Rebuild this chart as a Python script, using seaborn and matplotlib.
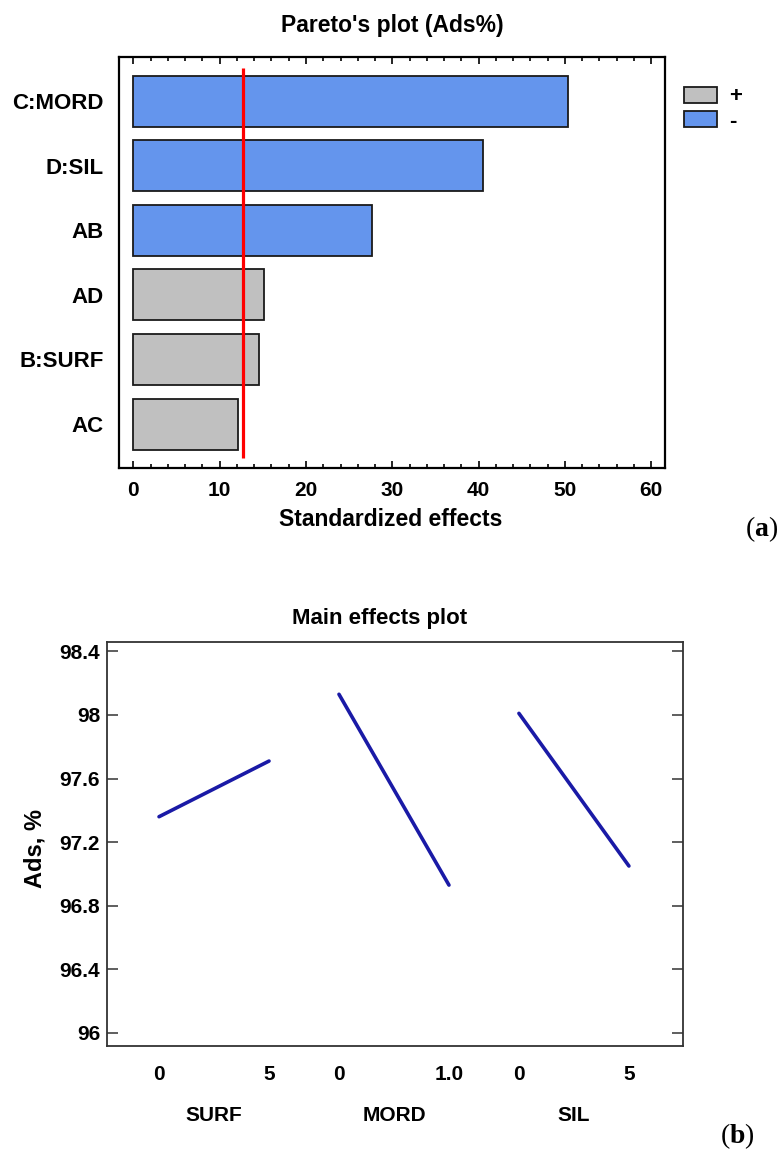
import numpy as np
import pandas as pd
import matplotlib
matplotlib.use("Agg")
import matplotlib.pyplot as plt
import matplotlib.transforms as mtransforms
from matplotlib.patches import Patch
from matplotlib.ticker import MultipleLocator
import seaborn as sns

# ---- Pareto chart of standardized effects ----
effects = ["C:MORD", "D:SIL", "AB", "AD", "B:SURF", "AC"]
effect_values = [50.4, 40.5, 27.7, 15.1, 14.6, 12.1]
effect_signs = ["-", "-", "-", "+", "+", "+"]
critical_value = 12.75
pareto_ticks = [0, 10, 20, 30, 40, 50, 60]

# ---- Main effects of each factor (low level -> high level) ----
factors = ["SURF", "MORD", "SIL"]
low_levels = ["0", "0", "0"]
high_levels = ["5", "1.0", "5"]
low_response = [97.36, 98.13, 98.01]
high_response = [97.71, 96.93, 97.05]
ads_ticks = [96.0, 96.4, 96.8, 97.2, 97.6, 98.0, 98.4]
ads_tick_labels = ["96", "96.4", "96.8", "97.2", "97.6", "98", "98.4"]

sns.set_style("white")
plt.rcParams["font.family"] = ["Liberation Sans", "DejaVu Sans"]
plt.rcParams["font.weight"] = "bold"
plt.rcParams["text.color"] = "black"
plt.rcParams["xtick.color"] = "black"
plt.rcParams["ytick.color"] = "black"
plt.rcParams["axes.labelcolor"] = "black"
plt.rcParams["mathtext.fontset"] = "custom"
plt.rcParams["mathtext.rm"] = "Liberation Serif"
plt.rcParams["mathtext.bf"] = "Liberation Serif:bold"

W, H = 780, 1150
fig = plt.figure(figsize=(W / 100, H / 100), dpi=100)
fig.patch.set_facecolor("white")


def box(left, top, right, bottom):
    """Axes rectangle from pixel edges (origin at the top-left)."""
    return [left / W, 1 - bottom / H, (right - left) / W, (bottom - top) / H]


# ================= (a) Pareto plot =================
ax1 = fig.add_axes(box(119, 56.7, 665, 468))
pareto = pd.DataFrame({"effect": effects, "value": effect_values, "sign": effect_signs})
sign_colors = {"+": "#c0c0c0", "-": "#6495ed"}
sns.barplot(data=pareto, x="value", y="effect", hue="sign", palette=sign_colors,
            dodge=False, width=0.79, saturation=1, edgecolor="#1a1a1a",
            linewidth=1.3, orient="h", legend=False, ax=ax1)
ax1.vlines(critical_value, -0.506, 5.52, color="#ff0000", lw=2.3, zorder=5)

ax1.set_xlim(-1.67, 61.6)
ax1.set_ylim(5.68, -0.686)
ax1.set_xticks(pareto_ticks)
ax1.xaxis.set_minor_locator(MultipleLocator(2))
ax1.tick_params(axis="x", which="both", direction="in", top=True, bottom=True,
                color="black", width=1.2, labelsize=15, pad=9)
ax1.tick_params(axis="x", which="major", length=5)
ax1.tick_params(axis="x", which="minor", length=3)
ax1.tick_params(axis="y", length=0, pad=11, labelsize=16)
ax1.set_xlabel("")
ax1.set_ylabel("")
for sp in ax1.spines.values():
    sp.set_visible(True)
    sp.set_color("black")
    sp.set_linewidth(1.6)

fig.text(392.5 / W, 1 - 31.7 / H, "Pareto's plot (Ads%)", ha="center",
         va="baseline", fontsize=16.5, fontweight="bold")
fig.text(390.5 / W, 1 - 526 / H, "Standardized effects", ha="center",
         va="baseline", fontsize=16.5, fontweight="bold")

legend_handles = [Patch(facecolor=sign_colors["+"], edgecolor="#1a1a1a", lw=1.3, label="+"),
                  Patch(facecolor=sign_colors["-"], edgecolor="#1a1a1a", lw=1.3, label="-")]
fig.legend(handles=legend_handles, loc="upper left", bbox_to_anchor=(684 / W, 1 - 86.5 / H),
           frameon=False, fontsize=16, handlelength=1.5, handleheight=0.7,
           handletextpad=0.55, labelspacing=0.16, borderpad=0, borderaxespad=0)

fig.text(762 / W, 1 - 529 / H, r"($\mathbf{a}$)", ha="center", va="center",
         fontsize=20, family="Liberation Serif", fontweight="normal")

# ================= (b) Main effects plot =================
ax2 = fig.add_axes(box(107, 641.8, 682.6, 1046))
seg_step = 1.636
rows = []
for i, f in enumerate(factors):
    rows.append({"factor": f, "x": i * seg_step, "ads": low_response[i]})
    rows.append({"factor": f, "x": i * seg_step + 1, "ads": high_response[i]})
effects_df = pd.DataFrame(rows)
line_color = "#1a1aa6"
sns.lineplot(data=effects_df, x="x", y="ads", hue="factor",
             palette=[line_color] * len(factors), legend=False, lw=2.6,
             sort=False, ax=ax2)

ax2.set_xlim(-0.473, 4.76)
ax2.set_ylim(95.918, 98.46)
ax2.set_yticks(ads_ticks, ads_tick_labels)
ax2.tick_params(axis="y", direction="in", left=True, right=True, length=8,
                width=1.1, color="#333333", labelsize=15, pad=5)

tick_pos, tick_lab = [], []
for i in range(len(factors)):
    tick_pos += [i * seg_step, i * seg_step + 1]
    tick_lab += [low_levels[i], high_levels[i]]
ax2.set_xticks(tick_pos, tick_lab)
ax2.tick_params(axis="x", length=0, labelsize=15, pad=14)
ax2.set_xlabel("")
ax2.set_ylabel("")
for sp in ax2.spines.values():
    sp.set_visible(True)
    sp.set_color("#333333")
    sp.set_linewidth(1.3)

trans = mtransforms.blended_transform_factory(ax2.transData, ax2.transAxes)
for i, f in enumerate(factors):
    ax2.text(i * seg_step + 0.5, -0.171, f, transform=trans, ha="center",
             va="center", fontsize=15, fontweight="bold")

fig.text(380 / W, 1 - 624 / H, "Main effects plot", ha="center", va="baseline",
         fontsize=16, fontweight="bold")
fig.text(35 / W, 1 - 849 / H, "Ads, %", rotation=90, ha="center", va="center",
         fontsize=17, fontweight="bold")
fig.text(737 / W, 1 - 1136 / H, r"($\mathbf{b}$)", ha="center", va="center",
         fontsize=20, family="Liberation Serif", fontweight="normal")

fig.savefig("out.png", dpi=100, facecolor="white")
